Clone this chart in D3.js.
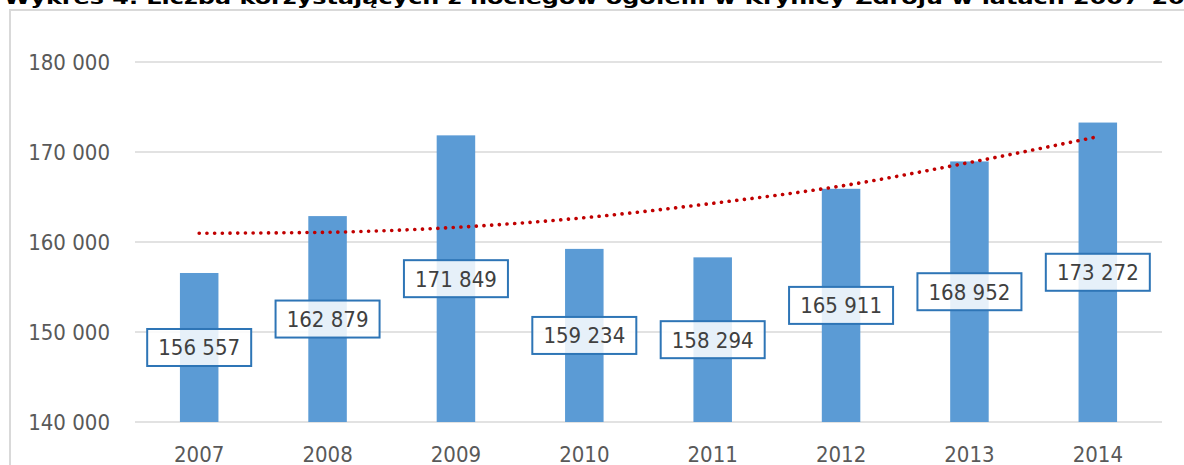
<!DOCTYPE html>
<html>
<head>
<meta charset="utf-8">
<script src="https://cdn.jsdelivr.net/npm/d3@7"></script>
<style>
  html, body { margin: 0; padding: 0; background: #fff; overflow: hidden; }
</style>
</head>
<body>
<div id="chart"></div>
<script>
const title = 'Wykres 4. Liczba korzystających z noclegów ogółem w Krynicy-Zdroju w latach 2007–2014';
const years = ['2007', '2008', '2009', '2010', '2011', '2012', '2013', '2014'];
const visitors = [156557, 162879, 171849, 159234, 158294, 165911, 168952, 173272];
// trend line values
const trend = [160970, 161080, 161630, 162700, 164300, 166220, 168830, 171700];
const yTicks = [140000, 150000, 160000, 170000, 180000];

const width = 1184,
  height = 465;
const fontFam = "'DejaVu Sans Condensed', 'DejaVu Sans', sans-serif";
const fmt = (v) => d3.format(',')(v).replace(/,/g, ' ');

const svg = d3
  .select('#chart')
  .append('svg')
  .attr('width', width)
  .attr('height', height);

// title, mostly cut off at the top
svg
  .append('text')
  .attr('x', 4)
  .attr('y', 4)
  .attr('textLength', 1214)
  .attr('lengthAdjust', 'spacingAndGlyphs')
  .attr('font-family', "'DejaVu Sans', sans-serif")
  .attr('font-weight', 'bold')
  .attr('font-size', 17)
  .attr('fill', '#000')
  .text(title);

// chart frame
svg
  .append('path')
  .attr('d', `M10,${height + 5} L10,10 L${width + 5},10`)
  .attr('fill', 'none')
  .attr('stroke', '#d9d9d9')
  .attr('stroke-width', 2);

const x = d3.scaleBand().domain(years).range([135, 1162]).paddingInner(0.7).paddingOuter(0.35);
const y = d3.scaleLinear().domain([140000, 180000]).range([422, 62]);

// gridlines
svg
  .append('g')
  .selectAll('line')
  .data(yTicks)
  .join('line')
  .attr('x1', 135)
  .attr('x2', 1162)
  .attr('y1', (d) => y(d))
  .attr('y2', (d) => y(d))
  .attr('stroke', '#d9d9d9')
  .attr('stroke-width', 1.3);

// y axis labels
svg
  .append('g')
  .selectAll('text')
  .data(yTicks)
  .join('text')
  .attr('x', 110)
  .attr('y', (d) => y(d))
  .attr('dy', '0.36em')
  .attr('text-anchor', 'end')
  .attr('font-family', fontFam)
  .attr('font-size', 22)
  .attr('fill', '#595959')
  .text((d) => fmt(d));

// bars
svg
  .append('g')
  .selectAll('rect')
  .data(years)
  .join('rect')
  .attr('x', (d) => x(d))
  .attr('width', x.bandwidth())
  .attr('y', (d, i) => y(visitors[i]))
  .attr('height', (d, i) => y(140000) - y(visitors[i]))
  .attr('fill', '#5b9bd5');

// trend line
const line = d3
  .line()
  .x((d, i) => x(years[i]) + x.bandwidth() / 2)
  .y((d) => y(d))
  .curve(d3.curveMonotoneX);

svg
  .append('path')
  .datum(trend)
  .attr('d', line)
  .attr('fill', 'none')
  .attr('stroke', '#c00000')
  .attr('stroke-width', 3.6)
  .attr('stroke-linecap', 'round')
  .attr('stroke-dasharray', '0.1 7.6');

// data labels at bar centre
const boxW = 104,
  boxH = 37;
const labels = svg
  .append('g')
  .selectAll('g')
  .data(years)
  .join('g')
  .attr('transform', (d, i) => {
    const cx = x(d) + x.bandwidth() / 2;
    const cy = (y(visitors[i]) + y(140000)) / 2;
    return `translate(${cx},${cy})`;
  });

labels
  .append('rect')
  .attr('x', -boxW / 2)
  .attr('y', -boxH / 2)
  .attr('width', boxW)
  .attr('height', boxH)
  .attr('fill', '#fff')
  .attr('fill-opacity', 0.85)
  .attr('stroke', '#2e75b6')
  .attr('stroke-width', 2);

labels
  .append('text')
  .attr('text-anchor', 'middle')
  .attr('dy', '0.36em')
  .attr('font-family', fontFam)
  .attr('font-size', 22)
  .attr('fill', '#404040')
  .text((d, i) => fmt(visitors[i]));

// x axis labels
svg
  .append('g')
  .selectAll('text')
  .data(years)
  .join('text')
  .attr('x', (d) => x(d) + x.bandwidth() / 2)
  .attr('y', 462)
  .attr('text-anchor', 'middle')
  .attr('font-family', fontFam)
  .attr('font-size', 22)
  .attr('fill', '#595959')
  .text((d) => d);
</script>
</body>
</html>
